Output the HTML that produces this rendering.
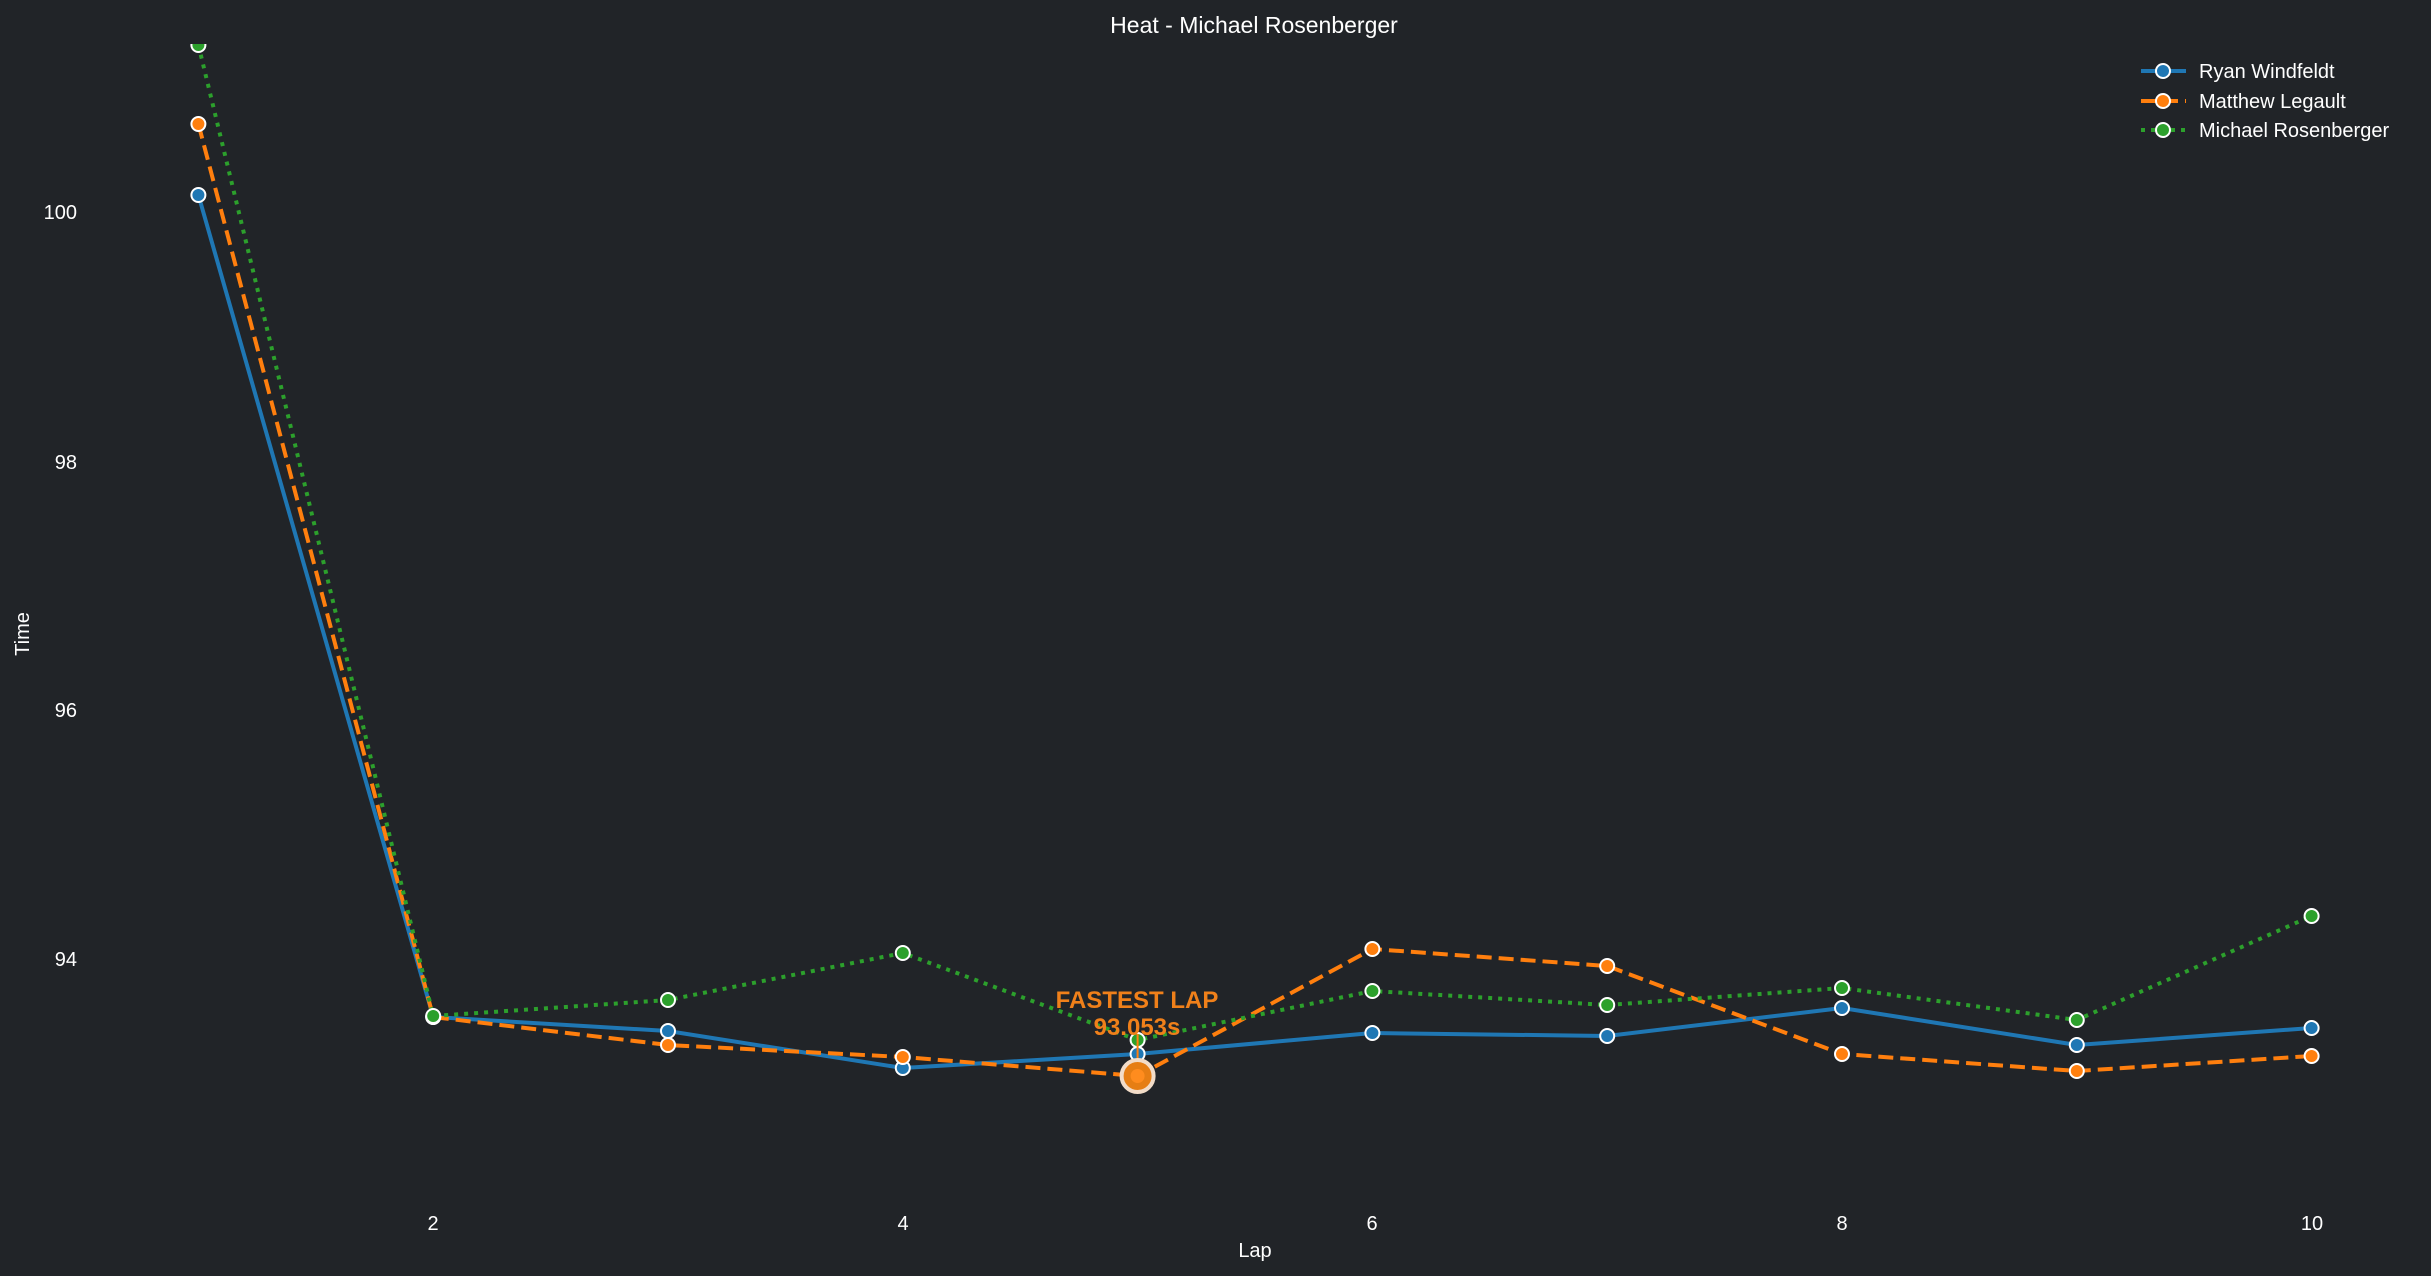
<!DOCTYPE html>
<html><head><meta charset="utf-8"><style>
html,body{margin:0;padding:0;background:#212428;}
svg{display:block;font-family:"Liberation Sans",Arial,sans-serif;}
</style></head><body>
<svg width="2431" height="1276" viewBox="0 0 2431 1276" xmlns="http://www.w3.org/2000/svg">
<rect width="2431" height="1276" fill="#212428"/>
<text x="1254" y="33" fill="#fff" font-size="23" text-anchor="middle">Heat - Michael Rosenberger</text>
<g fill="#fff" font-size="20" text-anchor="end">
<text x="77" y="219">100</text>
<text x="77" y="469">98</text>
<text x="77" y="717">96</text>
<text x="77" y="966">94</text>
</g>
<g fill="#fff" font-size="20" text-anchor="middle">
<text x="433" y="1230">2</text>
<text x="903" y="1230">4</text>
<text x="1372" y="1230">6</text>
<text x="1842" y="1230">8</text>
<text x="2312" y="1230">10</text>
<text x="1255" y="1257">Lap</text>
<text transform="translate(29,634) rotate(-90)">Time</text>
</g>
<defs>
<clipPath id="c"><rect x="0" y="44" width="2431" height="1232"/></clipPath>
</defs>
<g clip-path="url(#c)" fill="none" stroke-width="4">
<polyline stroke="#1f77b4" points="198.4,195 433.2,1017 668,1031 902.8,1068 1137.6,1054 1372.4,1033 1607.2,1036 1842,1008 2076.8,1045 2311.6,1028"/>
<polyline stroke="#ff7f0e" stroke-dasharray="15,7" points="198.4,124 433.2,1017 668,1045 902.8,1057 1137.6,1076 1372.4,949 1607.2,966 1842,1054 2076.8,1071 2311.6,1056"/>
<polyline stroke="#2ca02c" stroke-dasharray="4,6" points="198.4,45 433.2,1016 668,1000 902.8,953 1137.6,1040 1372.4,991 1607.2,1005 1842,988 2076.8,1020 2311.6,916"/>
</g>
<g stroke="#fff" stroke-width="2" clip-path="url(#c)">
<g fill="#1f77b4">
<circle cx="198.4" cy="195" r="7"/><circle cx="433.2" cy="1017" r="7"/><circle cx="668" cy="1031" r="7"/><circle cx="902.8" cy="1068" r="7"/><circle cx="1137.6" cy="1054" r="7"/><circle cx="1372.4" cy="1033" r="7"/><circle cx="1607.2" cy="1036" r="7"/><circle cx="1842" cy="1008" r="7"/><circle cx="2076.8" cy="1045" r="7"/><circle cx="2311.6" cy="1028" r="7"/>
</g>
<g fill="#ff7f0e">
<circle cx="198.4" cy="124" r="7"/><circle cx="433.2" cy="1017" r="7"/><circle cx="668" cy="1045" r="7"/><circle cx="902.8" cy="1057" r="7"/><circle cx="1372.4" cy="949" r="7"/><circle cx="1607.2" cy="966" r="7"/><circle cx="1842" cy="1054" r="7"/><circle cx="2076.8" cy="1071" r="7"/><circle cx="2311.6" cy="1056" r="7"/>
</g>
<g fill="#2ca02c">
<circle cx="198.4" cy="45" r="7"/><circle cx="433.2" cy="1016" r="7"/><circle cx="668" cy="1000" r="7"/><circle cx="902.8" cy="953" r="7"/><circle cx="1137.6" cy="1040" r="7"/><circle cx="1372.4" cy="991" r="7"/><circle cx="1607.2" cy="1005" r="7"/><circle cx="1842" cy="988" r="7"/><circle cx="2076.8" cy="1020" r="7"/><circle cx="2311.6" cy="916" r="7"/>
</g>
</g>
<line x1="1137.6" y1="1034" x2="1137.6" y2="1068" stroke="#ff7f0e" stroke-width="2"/>
<circle cx="1137.6" cy="1076" r="16" fill="#e67e14" stroke="#f2dcc8" stroke-width="4"/>
<circle cx="1137.6" cy="1076" r="7" fill="#ff8c1e"/>
<g fill="#f0801a" font-size="24" font-weight="bold" text-anchor="middle">
<text x="1137" y="1008">FASTEST LAP</text>
<text x="1137" y="1035">93.053s</text>
</g>
<g stroke-width="4">
<line x1="2141" y1="71" x2="2186" y2="71" stroke="#1f77b4"/>
<line x1="2141" y1="101" x2="2186" y2="101" stroke="#ff7f0e" stroke-dasharray="15,7"/>
<line x1="2141" y1="130" x2="2186" y2="130" stroke="#2ca02c" stroke-dasharray="4,6"/>
</g>
<g stroke="#fff" stroke-width="2">
<circle cx="2163" cy="71" r="7" fill="#1f77b4"/>
<circle cx="2163" cy="101" r="7" fill="#ff7f0e"/>
<circle cx="2163" cy="130" r="7" fill="#2ca02c"/>
</g>
<g fill="#fff" font-size="20">
<text x="2199" y="78">Ryan Windfeldt</text>
<text x="2199" y="108">Matthew Legault</text>
<text x="2199" y="137">Michael Rosenberger</text>
</g>
</svg>
</body></html>
